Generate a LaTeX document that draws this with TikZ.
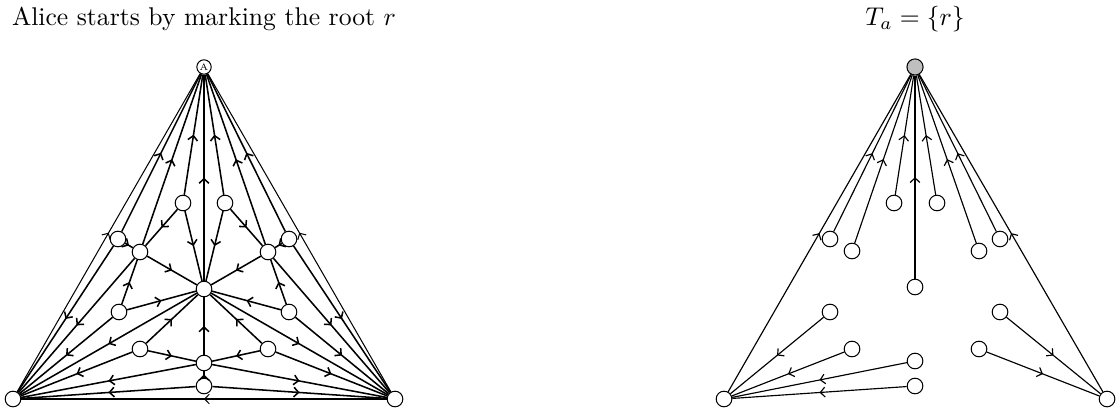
\documentclass[tikz,border=0pt]{standalone}
\usepackage{fontspec}
\usetikzlibrary{decorations.markings,arrows.meta}
\begin{document}
\begin{tikzpicture}[x=0.39pt,y=-0.39pt,
  v/.style={circle,draw,fill=white,inner sep=0pt,minimum size=6.1pt,line width=0.4pt},
  mid/.style={postaction={decorate},decoration={markings,mark=at position 0.5 with {\arrow{Straight Barb[length=1.8pt,width=3.8pt]}}}},
  ein/.style={mid,line width=0.6pt},
  eout/.style={mid,line width=0.4pt},
  eright/.style={mid,line width=0.45pt}
]
\useasboundingbox (0,0) rectangle (1116,410);
% titles
\node[anchor=base] (t1) at (204,26) {Alice starts by marking the root $r$};
\node[anchor=base] (t2) at (915,26) {$T_a=\{r\}$};

% ---------- left figure ----------
\node[v,minimum size=5.6pt,font=\fontsize{3.6}{4}\selectfont] (A) at (204,67) {A};
\node[v] (L) at (13,399) {};
\node[v] (R) at (395,399) {};
\node[v] (a1) at (183,203) {};
\node[v] (a2) at (225,203) {};
\node[v] (b1) at (118,239) {};
\node[v] (b2) at (140,252) {};
\node[v] (b3) at (268,252) {};
\node[v] (b4) at (289,239) {};
\node[v] (C) at (204,289) {};
\node[v] (c1) at (119,312) {};
\node[v] (c2) at (289,312) {};
\node[v] (d1) at (140,349) {};
\node[v] (d2) at (268,349) {};
\node[v] (e) at (204,363) {};
\node[v] (f) at (204,386) {};

% outer edges
\draw[eout] (L) -- (A);
\draw[eout] (R) -- (A);
\draw[eout] (R) -- (L);
% edges into A
\foreach \s in {b1,b2,a1,C,a2,b3,b4} \draw[ein] (\s) -- (A);
% edges into L
\foreach \s in {b1,b2,C,c1,d1,e,f} \draw[ein] (\s) -- (L);
% edges into R
\foreach \s in {b4,b3,C,c2,d2,e,f} \draw[ein] (\s) -- (R);
% interior edges
\draw[ein] (b1) -- (b2);
\draw[ein] (b4) -- (b3);
\draw[ein] (a1) -- (b2);
\draw[ein] (a2) -- (b3);
\draw[ein] (a1) -- (C);
\draw[ein] (a2) -- (C);
\draw[ein] (b2) -- (C);
\draw[ein] (b3) -- (C);
\draw[ein] (c1) -- (b2);
\draw[ein] (c2) -- (b3);
\draw[ein] (c1) -- (C);
\draw[ein] (c2) -- (C);
\draw[ein] (d1) -- (C);
\draw[ein] (d2) -- (C);
\draw[ein] (d1) -- (e);
\draw[ein] (d2) -- (e);
\draw[ein] (e) -- (C);
\draw[ein] (f) -- (e);

% ---------- right figure ----------
\node[v,fill=black!25,minimum size=6.3pt] (rA) at (915,67) {};
\node[v] (rL) at (724,399) {};
\node[v] (rR) at (1107,399) {};
\node[v] (ra1) at (894,203) {};
\node[v] (ra2) at (937,203) {};
\node[v] (rb1) at (830,239) {};
\node[v] (rb2) at (852,251) {};
\node[v] (rb3) at (979,251) {};
\node[v] (rb4) at (1000,239) {};
\node[v] (rC) at (915,287) {};
\node[v] (rc1) at (830,312) {};
\node[v] (rc2) at (1000,312) {};
\node[v] (rd1) at (852,349) {};
\node[v] (rd2) at (979,349) {};
\node[v] (re) at (915,361) {};
\node[v] (rf) at (915,386) {};

\draw[eright] (rL) -- (rA);
\draw[eright] (rR) -- (rA);
\foreach \s in {rb1,rb2,ra1,rC,ra2,rb3,rb4} \draw[eright] (\s) -- (rA);
\foreach \s in {rc1,rd1,re,rf} \draw[eright] (\s) -- (rL);
\foreach \s in {rc2,rd2} \draw[eright] (\s) -- (rR);
\end{tikzpicture}
\end{document}
